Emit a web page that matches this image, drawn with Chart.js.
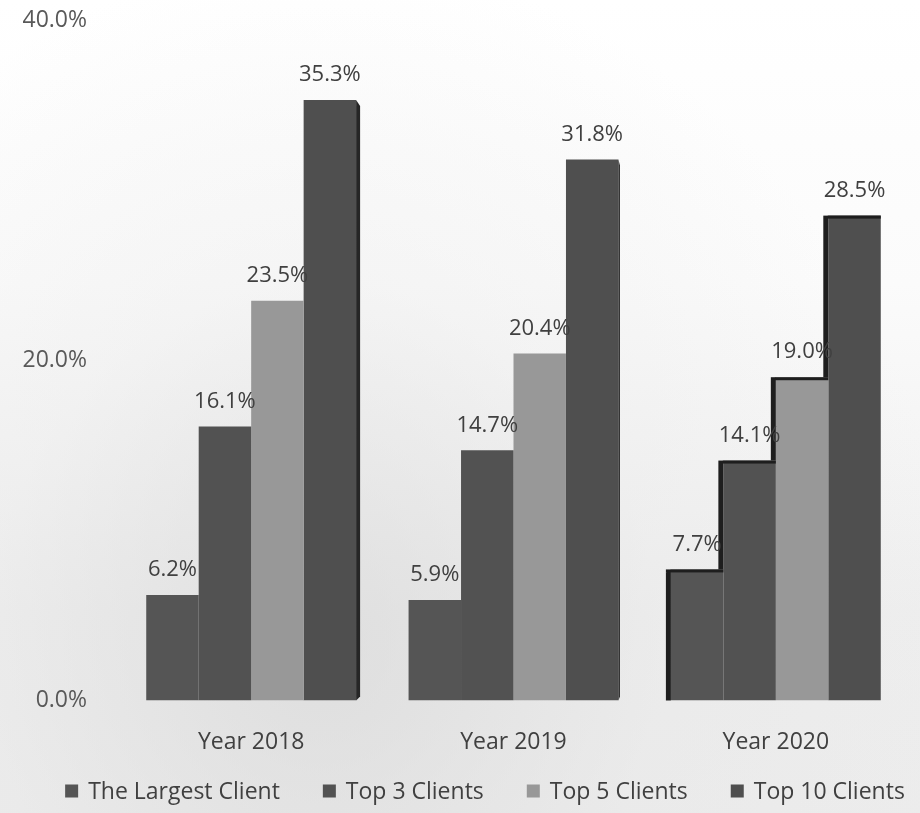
<!DOCTYPE html>
<html>
<head>
<meta charset="utf-8">
<script src="https://cdn.jsdelivr.net/npm/chart.js@4"></script>
<style>
  html, body { margin: 0; padding: 0; }
  body {
    width: 920px; height: 813px; overflow: hidden;
    background:
      radial-gradient(ellipse at 35% 80%, rgba(210,210,210,0.55) 0%, rgba(230,230,230,0.3) 40%, rgba(255,255,255,0) 75%),
      linear-gradient(180deg, #ffffff 0%, #fbfbfb 35%, #eeeeee 75%, #ececec 100%);
  }
  #wrap { position: relative; width: 920px; height: 813px; }
</style>
</head>
<body>
<div id="wrap"><canvas id="chart"></canvas></div>
<script>
const years = ['Year 2018', 'Year 2019', 'Year 2020'];
const largestClient = [6.2, 5.9, 7.7];
const top3Clients = [16.1, 14.7, 14.1];
const top5Clients = [23.5, 20.4, 19.0];
const top10Clients = [35.3, 31.8, 28.5];
const yTicks = [0, 20, 40];

const fontFamily = "'Open Sans', 'Liberation Sans', sans-serif";

// fake 3d side strips, like the office chart (right side on the left groups, left side on the last)
const sideWidth = [4, 1.5, 5];
const sideShade = {
    id: 'sideShade',
    afterDatasetsDraw(chart) {
        const ctx = chart.ctx;
        const metas = chart.data.datasets.map((d, i) => chart.getDatasetMeta(i));
        const n = metas.length;
        years.forEach((y, c) => {
            const w = sideWidth[c];
            for (let i = 0; i < n; i++) {
                const bar = metas[i].data[c];
                const half = bar.width / 2;
                const fromLeft = c === years.length - 1;
                let stopY = bar.base;
                if (fromLeft) {
                    if (i > 0) stopY = Math.max(bar.y, metas[i - 1].data[c].y);
                    if (stopY <= bar.y + 1) continue;
                    ctx.fillStyle = '#1e1e1e';
                    ctx.fillRect(bar.x - half - w, bar.y, bar.width + w, 3);
                    ctx.beginPath();
                    ctx.moveTo(bar.x - half, bar.y);
                    ctx.lineTo(bar.x - half - w, bar.y + 3);
                    ctx.lineTo(bar.x - half - w, stopY);
                    ctx.lineTo(bar.x - half, stopY);
                    ctx.closePath();
                    ctx.fill();
                } else {
                    if (i < n - 1) stopY = Math.max(bar.y, metas[i + 1].data[c].y);
                    if (stopY <= bar.y + 1) continue;
                    ctx.fillStyle = '#262626';
                    ctx.beginPath();
                    ctx.moveTo(bar.x + half, bar.y);
                    ctx.lineTo(bar.x + half + w, bar.y + 6);
                    ctx.lineTo(bar.x + half + w, Math.min(stopY, bar.base) - 4);
                    ctx.lineTo(bar.x + half, Math.min(stopY, bar.base));
                    ctx.closePath();
                    ctx.fill();
                }
            }
        });
    }
};

const valueLabels = {
    id: 'valueLabels',
    afterDatasetsDraw(chart) {
        const ctx = chart.ctx;
        ctx.save();
        ctx.font = '22px ' + fontFamily;
        ctx.fillStyle = '#404040';
        ctx.textAlign = 'center';
        ctx.textBaseline = 'middle';
        chart.data.datasets.forEach((ds, i) => {
            chart.getDatasetMeta(i).data.forEach((bar, j) => {
                ctx.fillText(ds.data[j].toFixed(1) + '%', bar.x, bar.y - 25);
            });
        });
        ctx.restore();
    }
};

// legend drawn by hand so that the four items stay on one row
const bottomLegend = {
    id: 'bottomLegend',
    afterDraw(chart) {
        const ctx = chart.ctx;
        const ds = chart.data.datasets;
        const box = 13, gapText = 10, gapItem = 43;
        ctx.save();
        ctx.font = '23px ' + fontFamily;
        ctx.textBaseline = 'middle';
        const widths = ds.map(d => box + gapText + ctx.measureText(d.label).width);
        const total = widths.reduce((a, b) => a + b, 0) + gapItem * (ds.length - 1);
        let x = 485 - total / 2;
        const y = 791;
        ds.forEach((d, i) => {
            ctx.fillStyle = d.backgroundColor;
            ctx.fillRect(x, y - box / 2, box, box);
            ctx.fillStyle = '#404040';
            ctx.fillText(d.label, x + box + gapText, y + 1);
            x += widths[i] + gapItem;
        });
        ctx.restore();
    }
};

new Chart(document.getElementById('chart'), {
    type: 'bar',
    data: {
        labels: years,
        datasets: [
            { label: 'The Largest Client', data: largestClient, backgroundColor: '#555555' },
            { label: 'Top 3 Clients', data: top3Clients, backgroundColor: '#525252' },
            { label: 'Top 5 Clients', data: top5Clients, backgroundColor: '#989898' },
            { label: 'Top 10 Clients', data: top10Clients, backgroundColor: '#4f4f4f' }
        ]
    },
    options: {
        responsive: true,
        maintainAspectRatio: false,
        animation: false,
        layout: { padding: { left: 20, right: 13, top: 20, bottom: 57 } },
        datasets: { bar: { categoryPercentage: 0.8, barPercentage: 1.0 } },
        scales: {
            x: {
                grid: { display: false, drawTicks: true, tickLength: 28 },
                border: { display: false },
                ticks: { color: '#404040', font: { family: fontFamily, size: 23 }, padding: 0 }
            },
            y: {
                min: 0,
                max: 40,
                afterBuildTicks: s => { s.ticks = yTicks.map(v => ({ value: v })); },
                afterFit: s => { s.width = 100; },
                grid: { display: false, drawTicks: true, tickLength: 33 },
                border: { display: false },
                ticks: {
                    color: '#595959',
                    padding: 0,
                    font: { family: fontFamily, size: 23 },
                    callback: v => v.toFixed(1) + '%'
                }
            }
        },
        plugins: {
            legend: { display: false },
            tooltip: { enabled: false }
        }
    },
    plugins: [sideShade, valueLabels, bottomLegend]
});
</script>
</body>
</html>
